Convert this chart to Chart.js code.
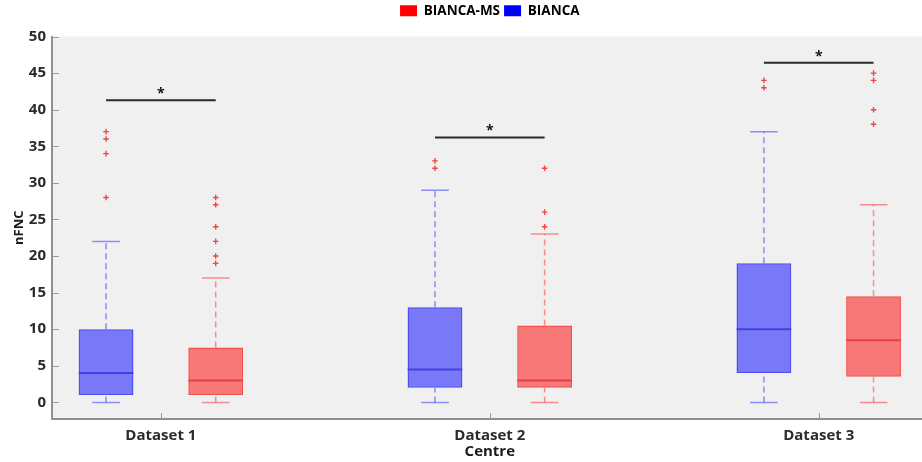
<!DOCTYPE html>
<html>
<head>
<meta charset="utf-8">
<script src="https://cdn.jsdelivr.net/npm/chart.js@4.4.1/dist/chart.umd.min.js"></script>
<style>
  html, body { margin: 0; padding: 0; background: #ffffff; overflow: hidden; }
  #wrap { width: 922px; height: 462px; overflow: hidden; }
  canvas { display: block; }
</style>
</head>
<body>
<div id="wrap"><canvas id="chart" width="933" height="462"></canvas></div>
<script>
// ---- data ----
const categories = ['Dataset 1', 'Dataset 2', 'Dataset 3'];
const groupPos = [1, 2, 3];
const yTicks = [0, 5, 10, 15, 20, 25, 30, 35, 40, 45, 50];

// BIANCA (blue)
const biancaLow = [0, 0, 0];
const biancaQ1 = [1, 2, 4];
const biancaMedian = [4, 4.5, 10];
const biancaQ3 = [10, 13, 19];
const biancaHigh = [22, 29, 37];
const biancaOutliers = [[28, 34, 36, 37], [32, 33], [43, 44]];

// BIANCA-MS (red)
const msLow = [0, 0, 0];
const msQ1 = [1, 2, 3.5];
const msMedian = [3, 3, 8.5];
const msQ3 = [7.5, 10.5, 14.5];
const msHigh = [17, 23, 27];
const msOutliers = [[19, 20, 22, 24, 27, 28], [24, 26, 32], [38, 40, 44, 45]];

// significance brackets
const sigLevel = [41.3, 36.2, 46.4];
const sigMark = ['*', '*', '*'];

// ---- layout constants (axis units) ----
const SERIES_OFFSET = 1 / 6;
const BOX_HALF = 0.083;
const CAP_HALF = 0.042;

const FONT = "'Open Sans', 'DejaVu Sans', sans-serif";

function segmentPoints(segs) {
  const pts = [];
  segs.forEach(s => {
    pts.push({ x: s[0], y: s[1] }, { x: s[2], y: s[3] }, { x: s[2], y: null });
  });
  return pts;
}

function boxSeries(label, offset, low, q1, med, q3, high, outl, c) {
  const xs = groupPos.map(p => p + offset);
  const box = {
    type: 'bar', label, order: 5, grouped: false,
    data: xs.map((x, i) => ({ x, y: [q1[i], q3[i]] })),
    backgroundColor: c.fill, borderColor: c.edge, borderWidth: 1.5, borderSkipped: false,
    barPercentage: 0.5, categoryPercentage: 1.0
  };
  const whisk = {
    type: 'line', label: label + ' whiskers', order: 4,
    data: segmentPoints(xs.flatMap((x, i) => [[x, q3[i], x, high[i]], [x, low[i], x, q1[i]]])),
    borderColor: c.whisker, borderWidth: 1.5, borderDash: [6, 4], pointRadius: 0, spanGaps: false, fill: false
  };
  const caps = {
    type: 'line', label: label + ' caps', order: 3,
    data: segmentPoints(xs.flatMap((x, i) => [[x - CAP_HALF, high[i], x + CAP_HALF, high[i]], [x - CAP_HALF, low[i], x + CAP_HALF, low[i]]])),
    borderColor: c.whisker, borderWidth: 1.5, pointRadius: 0, spanGaps: false, fill: false
  };
  const medians = {
    type: 'line', label: label + ' median', order: 2,
    data: segmentPoints(xs.map((x, i) => [x - BOX_HALF, med[i], x + BOX_HALF, med[i]])),
    borderColor: c.median, borderWidth: 2, pointRadius: 0, spanGaps: false, fill: false
  };
  const outliers = {
    type: 'scatter', label: label + ' outliers', order: 1,
    data: xs.flatMap((x, i) => outl[i].map(v => ({ x, y: v }))),
    pointStyle: 'cross', pointRadius: 2.8, borderColor: 'rgba(240,40,40,0.85)', borderWidth: 1.4,
    backgroundColor: 'rgba(240,40,40,0.85)'
  };
  return [box, whisk, caps, medians, outliers];
}

const blue = { fill: 'rgba(0,0,255,0.5)', edge: '#4f4ff0', median: '#4040e4', whisker: 'rgba(40,40,255,0.5)' };
const red  = { fill: 'rgba(255,0,0,0.5)', edge: '#f05050', median: '#e64040', whisker: 'rgba(255,40,40,0.5)' };

const msSets = boxSeries('BIANCA-MS', SERIES_OFFSET, msLow, msQ1, msMedian, msQ3, msHigh, msOutliers, red);
const biancaSets = boxSeries('BIANCA', -SERIES_OFFSET, biancaLow, biancaQ1, biancaMedian, biancaQ3, biancaHigh, biancaOutliers, blue);

const sigSet = {
  type: 'line', label: 'significance', order: 0,
  data: segmentPoints(groupPos.map((p, i) => [p - SERIES_OFFSET, sigLevel[i], p + SERIES_OFFSET, sigLevel[i]])),
  borderColor: '#2a2a2a', borderWidth: 2, pointRadius: 0, spanGaps: false, fill: false
};

// extra room between the legend and the plot area
const legendGap = {
  id: 'legendGap',
  beforeInit(chart) {
    const fit = chart.legend.fit;
    chart.legend.fit = function () {
      fit.call(this);
      this.height += 9;
    };
  }
};

// plot background, inward tick marks and significance stars
const decorations = {
  id: 'decorations',
  beforeDraw(chart) {
    const { ctx, chartArea: a } = chart;
    ctx.save();
    ctx.fillStyle = '#f0f0f0';
    ctx.fillRect(a.left, a.top, a.right - a.left, a.bottom - a.top);
    ctx.restore();
  },
  beforeDatasetsDraw(chart) {
    const { ctx, chartArea: a, scales } = chart;
    ctx.save();
    ctx.strokeStyle = '#9a9a9a';
    ctx.lineWidth = 1;
    ctx.beginPath();
    yTicks.forEach(v => {
      const py = Math.round(scales.y.getPixelForValue(v)) + 0.5;
      ctx.moveTo(a.left, py); ctx.lineTo(a.left + 7, py);
    });
    groupPos.forEach(v => {
      const px = Math.round(scales.x.getPixelForValue(v)) + 0.5;
      ctx.moveTo(px, a.bottom); ctx.lineTo(px, a.bottom - 6);
    });
    ctx.stroke();
    ctx.restore();
  },
  afterDatasetsDraw(chart) {
    const { ctx, scales } = chart;
    ctx.save();
    ctx.fillStyle = '#111';
    ctx.font = 'bold 14px ' + FONT;
    ctx.textAlign = 'center';
    ctx.textBaseline = 'alphabetic';
    groupPos.forEach((p, i) => {
      const px = scales.x.getPixelForValue(p);
      const py = scales.y.getPixelForValue(sigLevel[i]);
      ctx.fillText(sigMark[i], px, py - 2);
    });
    ctx.restore();
  }
};

new Chart(document.getElementById('chart'), {
  type: 'bar',
  data: { datasets: [...msSets, ...biancaSets, sigSet] },
  options: {
    responsive: false,
    animation: false,
    devicePixelRatio: 1,
    events: [],
    layout: { padding: { top: 0, left: 0, right: 0, bottom: 0 } },
    plugins: {
      tooltip: { enabled: false },
      legend: {
        position: 'top',
        fullSize: false,
        onClick: null,
        labels: {
          boxWidth: 17, boxHeight: 11, padding: 4,
          color: '#1a1a1a',
          font: { family: FONT, size: 13.5, weight: 'bold' },
          generateLabels: () => [
            { text: 'BIANCA-MS', fillStyle: '#ff0000', strokeStyle: '#ff0000', lineWidth: 0, hidden: false, datasetIndex: 0 },
            { text: 'BIANCA', fillStyle: '#0000ff', strokeStyle: '#0000ff', lineWidth: 0, hidden: false, datasetIndex: 5 }
          ]
        }
      }
    },
    scales: {
      x: {
        type: 'linear',
        offset: false,
        min: 0.669, max: 3.331,
        afterBuildTicks: s => { s.ticks = groupPos.map(v => ({ value: v })); },
        afterFit: s => { s.height = 43; },
        grid: { display: false, drawTicks: false },
        border: { display: true, color: '#8f8f8f', width: 2 },
        ticks: {
          padding: 8, color: '#2b2b2b', maxRotation: 0, autoSkip: false,
          font: { family: FONT, size: 15, weight: 'bold' },
          callback: v => categories[groupPos.indexOf(v)]
        },
        title: {
          display: true, text: 'Centre', color: '#1a1a1a',
          font: { family: FONT, size: 15, weight: 'bold' },
          padding: { top: 0, bottom: 1 }
        }
      },
      y: {
        min: -2.27, max: 50,
        afterBuildTicks: s => { s.ticks = yTicks.map(v => ({ value: v })); },
        afterFit: s => { s.width = 52; },
        grid: { display: false, drawTicks: false },
        border: { display: true, color: '#8f8f8f', width: 2 },
        ticks: {
          padding: 6, color: '#2b2b2b',
          font: { family: FONT, size: 15, weight: 'bold' }
        },
        title: {
          display: true, text: 'nFNC', color: '#1a1a1a',
          font: { family: FONT, size: 13, weight: 'bold' },
          padding: { top: 11, bottom: 0 }
        }
      }
    }
  },
  plugins: [legendGap, decorations]
});
</script>
</body>
</html>
